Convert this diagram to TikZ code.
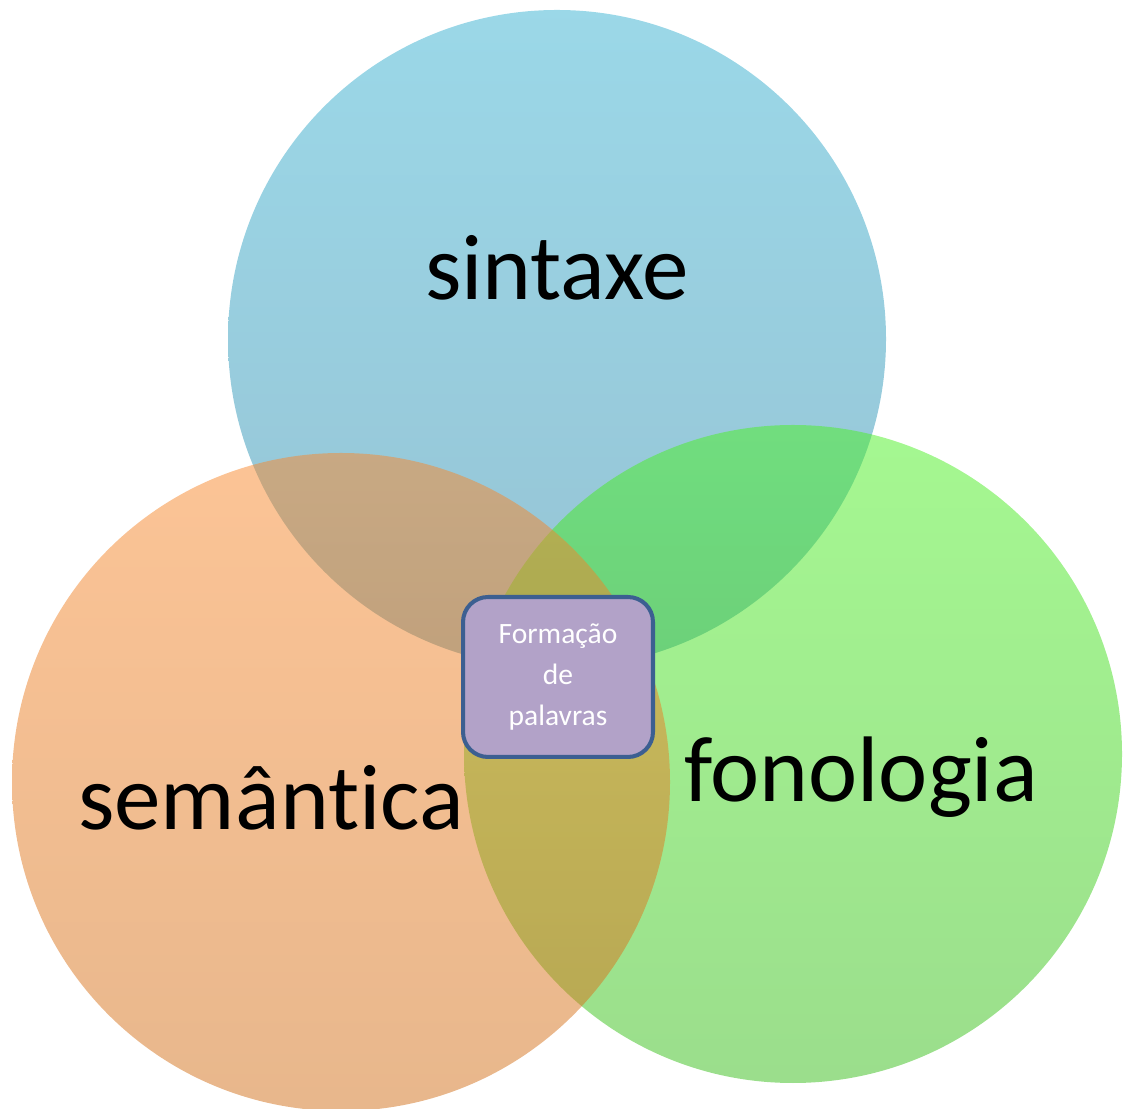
\documentclass[tikz,border=0pt]{standalone}
\usepackage{fontspec}
\setmainfont{Carlito}[Ligatures=NoCommon]
\definecolor{sinTop}{RGB}{55,177,209}
\definecolor{sinBot}{RGB}{45,135,169}
\definecolor{fonTop}{RGB}{75,241,35}
\definecolor{fonBot}{RGB}{55,189,25}
\definecolor{semTop}{RGB}{249,137,45}
\definecolor{semBot}{RGB}{209,111,25}
\definecolor{boxFill}{RGB}{178,162,200}
\definecolor{boxLine}{RGB}{60,95,145}
\tikzset{
  circlabel/.style={font=\fontsize{53}{60}\selectfont, anchor=base, inner sep=0pt},
  centerbox/.style={draw=boxLine, line width=2.3pt, fill=boxFill, rounded corners=0.5cm,
    minimum width=3.8cm, minimum height=3.2cm, align=center, text=white,
    font=\fontsize{16.8}{23.3}\selectfont}
}
\begin{document}
\begin{tikzpicture}[x=0.02cm, y=0.02cm]
                \useasboundingbox (0,0) rectangle (1128,1108);

                % Define circle centres
                \coordinate (S) at (557,769);
                \coordinate (F) at (793,354);
                \coordinate (M) at (341,326);

                % Draw circles
                \shade[top color=sinTop, bottom color=sinBot, opacity=0.5] (S) circle[radius=329];
                \shade[top color=fonTop, bottom color=fonBot, opacity=0.5] (F) circle[radius=329];
                \shade[top color=semTop, bottom color=semBot, opacity=0.5] (M) circle[radius=329];

                % Labels
                \node[circlabel] (sintaxe) at (557,808) {sintaxe};
                \node[circlabel] (fonologia) at (861,306) {fonologia};
                \node[circlabel] (semantica) at (271,278) {semântica};

                % Centre box
                \node[centerbox] (formacao) at (558,431) {Formação\\de\\palavras};
        \end{tikzpicture}
\end{document}
